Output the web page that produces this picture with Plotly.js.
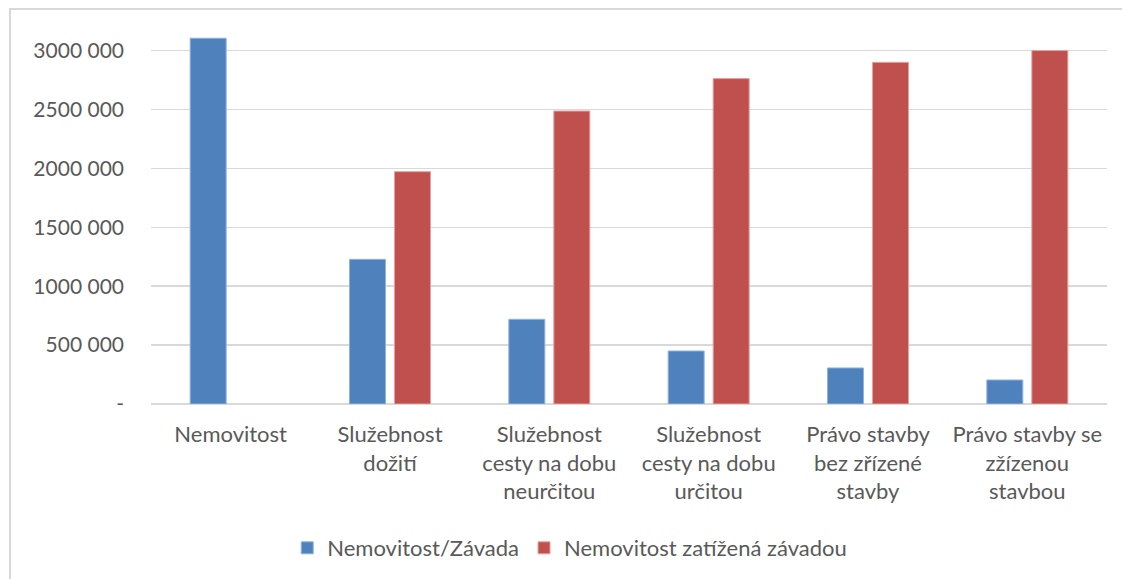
<!DOCTYPE html>
<html>
<head>
<meta charset="utf-8">
<script src="https://cdn.plot.ly/plotly-3.0.1.min.js"></script>
<style>
  html, body { margin: 0; padding: 0; background: #fff; }
  #wrap { position: relative; width: 1122px; height: 579px; }
  #chart { width: 1122px; height: 579px; }
  #frame { position: absolute; left: 9px; top: 8px; width: 1113px; height: 571px;
           border-left: 2px solid #d9d9d9; border-top: 2px solid #d9d9d9;
           box-sizing: border-box; pointer-events: none; }
</style>
</head>
<body>
<div id="wrap">
  <div id="chart"></div>
  <div id="frame"></div>
</div>
<script>
const categories = [
  "Nemovitost",
  "Služebnost<br>dožití",
  "Služebnost<br>cesty na dobu<br>neurčitou",
  "Služebnost<br>cesty na dobu<br>určitou",
  "Právo stavby<br>bez zřízené<br>stavby",
  "Právo stavby se<br>zžízenou<br>stavbou"
];
const seriesNames = ["Nemovitost/Závada", "Nemovitost zatížená závadou"];
const valuesZavada = [3105000, 1228000, 719000, 450000, 306000, 204000];
const valuesZatizena = [null, 1972000, 2487000, 2762000, 2900000, 3000000];
const yTickVals = [0, 500000, 1000000, 1500000, 2000000, 2500000, 3000000];
const yTickText = ["-", "500 000", "1000 000", "1500 000", "2000 000", "2500 000", "3000 000"];

const FONT = "Lato, 'Open Sans', sans-serif";
const TXT = "#595959";

const data = [
  { type: "bar", name: seriesNames[0], x: categories, y: valuesZavada,
    marker: { color: "#4f81bd", line: { color: "#8eb4e3", width: 1 } }, hoverinfo: "y" },
  { type: "bar", name: seriesNames[1], x: categories, y: valuesZatizena,
    marker: { color: "#c0504d", line: { color: "#e6a09e", width: 1 } }, hoverinfo: "y" }
];

const layout = {
  width: 1122, height: 579,
  paper_bgcolor: "#fff", plot_bgcolor: "#fff",
  margin: { l: 151, r: 15, t: 27, b: 175 },
  barmode: "group", bargap: 0.435, bargroupgap: 0.2,
  font: { family: FONT, size: 22, color: TXT },
  showlegend: true,
  legend: { orientation: "h", xref: "container", yref: "container",
            x: 0.256, xanchor: "left", y: 0.0535, yanchor: "middle",
            font: { family: FONT, size: 22, color: TXT }, itemwidth: 30,
            traceorder: "normal" },
  xaxis: { type: "category", showgrid: false, showline: false, zeroline: false,
           ticks: "", ticklabelstandoff: 15,
           tickfont: { family: FONT, size: 22, color: TXT } },
  yaxis: { range: [0, 3200000], tickvals: yTickVals, ticktext: yTickText,
           showgrid: true, gridcolor: "#d9d9d9", gridwidth: 1.5,
           zeroline: true, zerolinecolor: "#d9d9d9", zerolinewidth: 1.5,
           showline: false, ticks: "", ticklabelstandoff: 26,
           tickfont: { family: FONT, size: 21, color: TXT } }
};

Plotly.newPlot("chart", data, layout, { displayModeBar: false, staticPlot: true });
</script>
</body>
</html>
